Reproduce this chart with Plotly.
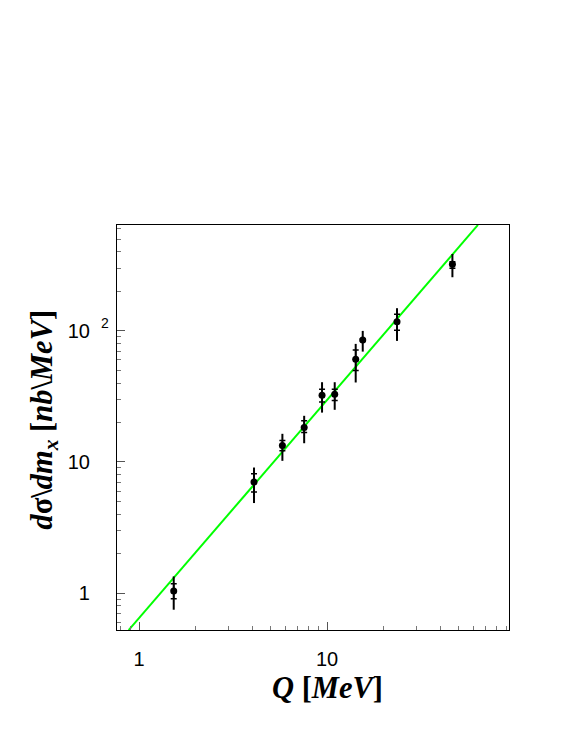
import plotly.graph_objects as go

# ---- data ----
q_mev = [1.53, 4.09, 5.79, 7.56, 9.41, 10.99, 14.21, 15.49, 23.57, 46.45]
xsec = [1.036, 7.02, 13.35, 18.3, 32.3, 32.9, 60.8, 85.4, 117.7, 322.6]
tot_hi = [1.339, 9.07, 16.4, 22.5, 40.6, 40.6, 79.6, 100.0, 149.0, 386.0]
tot_lo = [0.746, 4.86, 10.2, 13.9, 23.8, 25.0, 40.4, 69.5, 83.9, 256.7]
stat_hi = [1.177, 8.12, 14.6, 20.6, 35.9, 35.9, 71.6, 86.9, 134.0, 337.0]
stat_lo = [0.905, 5.89, 12.2, 16.8, 28.7, 29.4, 49.8, 83.9, 101.0, 300.7]

fit_q = [0.881, 63.5]
fit_y = [0.522, 643.0]

x_major = [1, 10]
x_major_text = ["1", "10"]
x_minor = [0.8, 0.9, 2, 3, 4, 5, 6, 7, 8, 9, 20, 30, 40, 50, 60, 70, 80, 90]
y_major = [1, 10, 100]
y_major_text = ["1", "10", "10"]
y_minor = [0.6, 0.7, 0.8, 0.9, 2, 3, 4, 5, 6, 7, 8, 9,
           20, 30, 40, 50, 60, 70, 80, 90, 200, 300, 400, 500, 600]

tot_plus = [h - v for h, v in zip(tot_hi, xsec)]
tot_minus = [v - l for l, v in zip(tot_lo, xsec)]
stat_plus = [h - v for h, v in zip(stat_hi, xsec)]
stat_minus = [v - l for l, v in zip(stat_lo, xsec)]

fig = go.Figure()

fig.add_trace(go.Scatter(
    x=fit_q, y=fit_y, mode="lines",
    line=dict(color="#00ff00", width=2), showlegend=False, hoverinfo="skip"))

fig.add_trace(go.Scatter(
    x=q_mev, y=xsec, mode="markers",
    marker=dict(size=1, color="rgba(0,0,0,0)"),
    error_y=dict(type="data", symmetric=False, array=tot_plus, arrayminus=tot_minus,
                 color="black", thickness=2, width=0),
    showlegend=False))

fig.add_trace(go.Scatter(
    x=q_mev, y=xsec, mode="markers",
    marker=dict(size=7, color="black", symbol="circle"),
    error_y=dict(type="data", symmetric=False, array=stat_plus, arrayminus=stat_minus,
                 color="black", thickness=1.5, width=3),
    showlegend=False))

tick_font = dict(family="Liberation Sans, Arial, sans-serif", size=20, color="black")

fig.update_xaxes(
    type="log", range=[-0.117, 1.968],
    showgrid=False, zeroline=False,
    showline=True, linecolor="black", linewidth=1.2, mirror=True,
    tickmode="array", tickvals=x_major, ticktext=x_major_text,
    ticks="inside", ticklen=8, tickcolor="#555", tickwidth=1,
    tickfont=tick_font, ticklabelstandoff=11,
    minor=dict(tickmode="array", tickvals=x_minor, ticks="inside",
               ticklen=4, tickcolor="#777", tickwidth=1),
)
fig.update_yaxes(
    type="log", range=[-0.282, 2.808],
    showgrid=False, zeroline=False,
    showline=True, linecolor="black", linewidth=1.2, mirror=True,
    tickmode="array", tickvals=y_major, ticktext=y_major_text,
    ticks="inside", ticklen=8, tickcolor="#555", tickwidth=1,
    tickfont=tick_font, ticklabelstandoff=22,
    minor=dict(tickmode="array", tickvals=y_minor, ticks="inside",
               ticklen=4, tickcolor="#777", tickwidth=1),
)

title_font = dict(family="Liberation Serif, Times New Roman, serif", size=30.5, color="black")

fig.update_layout(
    width=556, height=722,
    margin=dict(l=109, r=55, t=217, b=100),
    paper_bgcolor="white", plot_bgcolor="white",
    showlegend=False,
    annotations=[
        # exponent of the 10^2 tick label
        dict(text="2", xref="paper", yref="y", x=-0.031, y=2, yshift=8,
             showarrow=False, xanchor="center", yanchor="middle",
             font=dict(family="Liberation Sans, Arial, sans-serif", size=14, color="black")),
        # x-axis title
        dict(text="<b><i>Q</i> [<i>MeV</i>]</b>", xref="paper", yref="paper",
             x=0.537, y=-0.143, showarrow=False, xanchor="center", yanchor="middle",
             font=title_font),
        # y-axis title
        dict(text="<b><i>d</i>σ\\<i>dm<sub>x</sub></i> [<i>nb</i>\\<i>MeV</i>]</b>",
             xref="paper", yref="paper", x=-0.186, y=0.52, textangle=-90,
             showarrow=False, xanchor="center", yanchor="middle", font=title_font),
    ],
)

fig.write_html("out.html")
